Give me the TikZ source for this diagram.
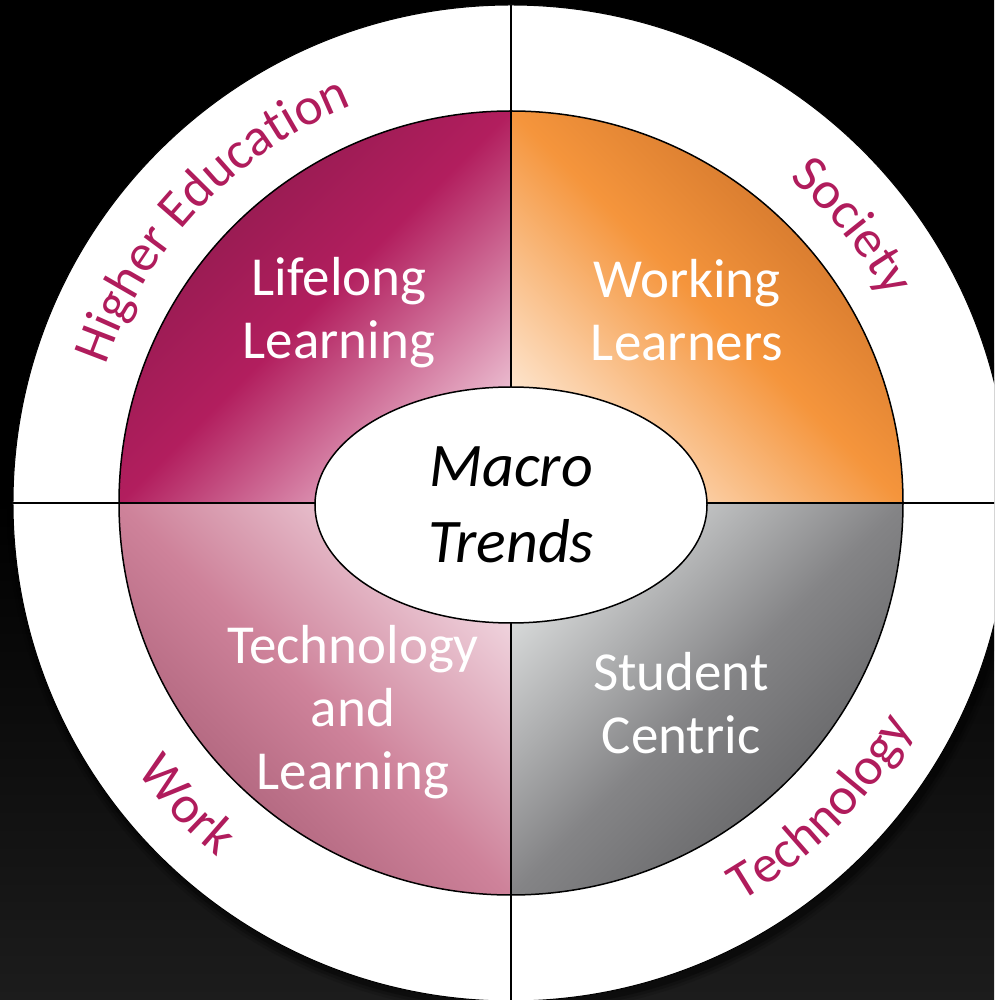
\documentclass[tikz,border=0pt]{standalone}
\usepackage{fontspec}
\setmainfont{Carlito}
\usepackage{tikz}
\usetikzlibrary{positioning,shapes.geometric,decorations.text}
\definecolor{ringred}{RGB}{176,28,92}
\definecolor{bggray}{RGB}{28,28,28}
\definecolor{hedark}{RGB}{138,26,76}
\definecolor{hemid}{RGB}{178,30,94}
\definecolor{helight}{RGB}{234,186,206}
\definecolor{socdark}{RGB}{200,110,40}
\definecolor{socmid}{RGB}{245,149,60}
\definecolor{soclight}{RGB}{253,228,204}
\definecolor{wkdark}{RGB}{164,90,114}
\definecolor{wkmid}{RGB}{206,130,154}
\definecolor{wklight}{RGB}{240,212,222}
\definecolor{tcdark}{RGB}{92,92,94}
\definecolor{tcmid}{RGB}{132,132,134}
\definecolor{tclight}{RGB}{216,218,218}
\newcommand{\trendfont}{\fontsize{55}{63}\selectfont}
\newcommand{\macrofont}{\fontsize{62}{76}\selectfont\itshape}
\newcommand{\ringfont}{\fontsize{53}{60}\selectfont}
\tikzset{quadrant/.style={draw=black, line width=1.5pt},
  trend/.style={text=white, align=center, font=\trendfont},
  ringlabel/.style={decorate, decoration={text along path, text align=center,
    text color=ringred, text={|\ringfont|#1}}}}

\begin{document}
\begin{tikzpicture}[x=1pt, y=1pt]
  \useasboundingbox (-511,-497) rectangle (483,503);
  \clip (-511,-497) rectangle (483,503);
  \shade[top color=black, bottom color=bggray, middle color=black] (-511,-497) rectangle (483,503);

  % outer ring
  \foreach \r/\o in {507/0.12, 504/0.2, 501/0.3}
    \fill[black, opacity=\o] (3,-4) circle (\r);
  \draw[fill=white, line width=1pt] (0,0) circle (498);

  % four quadrants
  \path[quadrant, top color=hedark, bottom color=helight, middle color=hemid, shading angle=45]
    (0,0) -- (90:392) arc[start angle=90, end angle=180, radius=392] -- cycle;
  \path[quadrant, top color=socdark, bottom color=soclight, middle color=socmid, shading angle=-45]
    (0,0) -- (0:392) arc[start angle=0, end angle=90, radius=392] -- cycle;
  \path[quadrant, top color=wklight, bottom color=wkdark, middle color=wkmid, shading angle=-45]
    (0,0) -- (180:392) arc[start angle=180, end angle=270, radius=392] -- cycle;
  \path[quadrant, top color=tclight, bottom color=tcdark, middle color=tcmid, shading angle=45]
    (0,0) -- (270:392) arc[start angle=270, end angle=360, radius=392] -- cycle;

  \coordinate (west) at (180:498);
  \coordinate (east) at (0:498);
  \coordinate (north) at (90:498);
  \coordinate (south) at (270:498);
  \draw[quadrant] (west) -- (east);
  \draw[quadrant] (north) -- (south);

  % centre
  \node[draw, ellipse, fill=white, line width=1.5pt, inner sep=0pt,
    minimum width=392pt, minimum height=236pt, align=center, font=\macrofont] (core) at (0,-2) {Macro\\Trends};

  \node[trend] (lifelong) at (-172,190) {Lifelong\\Learning};
  \node[trend] (working) at (176,193) {Working\\Learners};
  \node[trend] (techlearn) at (-158,-209) {Technology\\and\\Learning};
  \node[trend] (student) at (170,-200) {Student\\Centric};

  % ring labels
  \path[ringlabel={Higher Education}] (171.5:428) arc[start angle=171.5, end angle=101.5, radius=428];
  \path[ringlabel={Society}] (69:428) arc[start angle=69, end angle=9, radius=428];
  \path[ringlabel={Work}] (193:460) arc[start angle=193, end angle=253, radius=460];
  \path[ringlabel={Technology}] (-74.5:460) arc[start angle=-74.5, end angle=-14.5, radius=460];
\end{tikzpicture}
\end{document}
